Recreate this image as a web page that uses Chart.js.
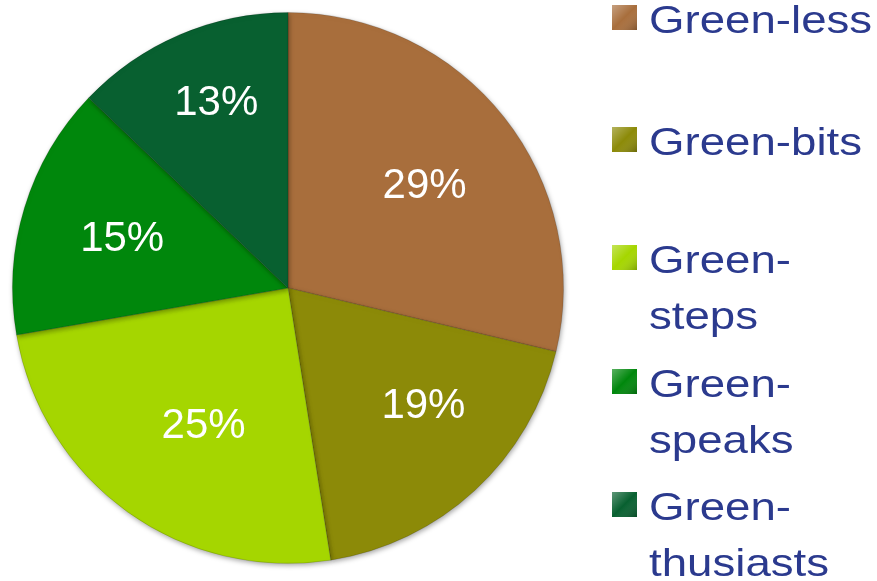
<!DOCTYPE html>
<html>
<head>
<meta charset="utf-8">
<script src="https://cdn.jsdelivr.net/npm/chart.js@4/dist/chart.umd.min.js"></script>
<style>
  html, body { margin: 0; padding: 0; background: #ffffff; }
  #wrap { position: relative; width: 877px; height: 581px; }
  canvas { display: block; }
</style>
</head>
<body>
<div id="wrap"><canvas id="pie" width="877" height="581"></canvas></div>
<script>
// Segment names and their shares (percent)
const categories = ['Green-less', 'Green-bits', 'Green-steps', 'Green-speaks', 'Green-thusiasts'];
const shares = [29, 19, 25, 15, 13];
const sliceColors = ['#A86E3C', '#8C8A08', '#A5D600', '#00870C', '#086030'];

// Percent labels inside the slices: placed at a fraction of each slice's sweep
// and a fraction of the outer radius
const sliceLabels = {
  id: 'sliceLabels',
  afterDatasetsDraw(chart, args, opts) {
    const ctx = chart.ctx;
    const meta = chart.getDatasetMeta(0);
    ctx.save();
    ctx.shadowColor = 'transparent';
    ctx.fillStyle = '#ffffff';
    ctx.font = '42px "Liberation Sans", Arial, sans-serif';
    ctx.textAlign = 'center';
    ctx.textBaseline = 'alphabetic';
    meta.data.forEach((arc, i) => {
      const p = arc.getProps(['x', 'y', 'startAngle', 'endAngle', 'outerRadius'], true);
      const a = p.startAngle + (p.endAngle - p.startAngle) * opts.sweep[i];
      const r = p.outerRadius * opts.radius[i];
      ctx.fillText(shares[i] + '%', p.x + Math.cos(a) * r, p.y + Math.sin(a) * r + 15);
    });
    ctx.restore();
  }
};

// Soft shadow under the slices
const sliceShadow = {
  id: 'sliceShadow',
  beforeDatasetsDraw(chart) {
    const ctx = chart.ctx;
    ctx.save();
    ctx.shadowColor = 'rgba(0,0,0,0.35)';
    ctx.shadowBlur = 5;
    ctx.shadowOffsetX = 1;
    ctx.shadowOffsetY = 2;
  },
  afterDatasetsDraw(chart) {
    chart.ctx.restore();
  }
};

// Legend column on the right: swatch + label, wrapping at the hyphen
const sideLegend = {
  id: 'sideLegend',
  afterDraw(chart, args, opts) {
    const ctx = chart.ctx;
    ctx.save();
    ctx.font = opts.fontSize + 'px "Liberation Sans", Arial, sans-serif';
    ctx.textBaseline = 'alphabetic';
    ctx.textAlign = 'left';
    const avail = chart.width - opts.textX;
    chart.data.labels.forEach((label, i) => {
      let lines = [label];
      if (ctx.measureText(label).width * opts.stretch > avail) {
        const k = label.indexOf('-');
        lines = [label.slice(0, k + 1), label.slice(k + 1)];
      }
      const base = opts.baselines[i];
      // swatch with a light bevel
      const sx = opts.swatchX, sy = base - 28, s = opts.swatch;
      const g = ctx.createLinearGradient(sx, sy, sx + s, sy + s);
      g.addColorStop(0, 'rgba(255,255,255,0.35)');
      g.addColorStop(0.5, 'rgba(255,255,255,0)');
      g.addColorStop(1, 'rgba(0,0,0,0.25)');
      ctx.fillStyle = sliceColors[i];
      ctx.fillRect(sx, sy, s, s);
      ctx.fillStyle = g;
      ctx.fillRect(sx, sy, s, s);
      // label text
      ctx.fillStyle = opts.color;
      lines.forEach((ln, j) => {
        ctx.save();
        ctx.translate(opts.textX, base + j * opts.lineGap);
        ctx.scale(opts.stretch, 1);
        ctx.fillText(ln, 0, 0);
        ctx.restore();
      });
    });
    ctx.restore();
  }
};

new Chart(document.getElementById('pie'), {
  type: 'pie',
  data: {
    labels: categories,
    datasets: [{
      data: shares,
      backgroundColor: sliceColors,
      borderColor: 'rgba(0,0,0,0.15)',
      borderWidth: 1
    }]
  },
  options: {
    responsive: false,
    animation: false,
    events: [],
    layout: { padding: { left: 12, top: 12, right: 313, bottom: 17 } },
    plugins: {
      legend: { display: false },
      tooltip: { enabled: false },
      sliceLabels: {
        sweep: [0.507, 0.40, 0.459, 0.51, 0.55],
        radius: [0.626, 0.646, 0.578, 0.631, 0.732]
      },
      sideLegend: {
        fontSize: 39,
        stretch: 1.17,
        color: '#2B3A8E',
        swatchX: 612,
        swatch: 25,
        textX: 649,
        lineGap: 56,
        baselines: [33, 155, 273, 397, 520]
      }
    }
  },
  plugins: [sliceShadow, sliceLabels, sideLegend]
});
</script>
</body>
</html>
